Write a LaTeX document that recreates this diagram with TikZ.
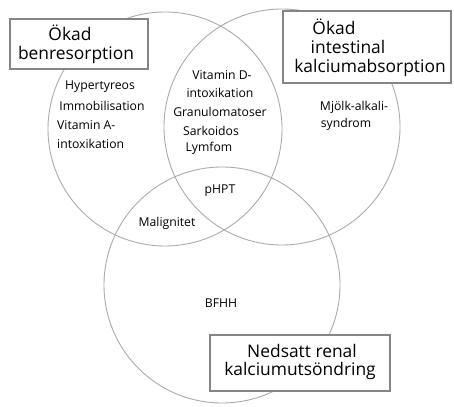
\documentclass[tikz,border=0pt]{standalone}
\usepackage{fontspec}
\setmainfont{Open Sans}
\begin{document}
\begin{tikzpicture}[x=1pt,y=-1pt,
  venn/.style={draw=black!33,line width=0.9pt},
  labelbox/.style={draw=black!48,line width=1.6pt,fill=white,inner sep=0pt,anchor=north west},
  big/.style={inner sep=0pt,font=\fontsize{17.4}{20}\selectfont,text=black},
  small/.style={inner sep=0pt,font=\fontsize{12.2}{14}\selectfont,text=black}]
\useasboundingbox (0,0) rectangle (454,406);
% circles
\draw[venn] (165,129) circle[radius=117];
\draw[venn] (282,127) circle[radius=118];
\draw[venn] (222,285) circle[radius=118];
% boxes
\node[labelbox,minimum width=138pt,minimum height=50pt] (b1) at (9,18) {};
\node[labelbox,minimum width=168pt,minimum height=72pt] (b2) at (282,10) {};
\node[labelbox,minimum width=180pt,minimum height=56pt] (b3) at (209,334) {};
% box texts
\node[big] (t1a) at (70,33) {Ökad};
\node[big] (t1b) at (76,55) {benresorption};
\node[big] (t2a) at (334,27) {Ökad};
\node[big] (t2b) at (348,47) {intestinal};
\node[big] (t2c) at (370,68) {kalciumabsorption};
\node[big] (t3a) at (302,351) {Nedsatt renal};
\node[big] (t3b) at (300,371) {kalciumutsöndring};
% left circle
\node[small] (l1) at (100,87) {Hypertyreos};
\node[small] (l2) at (102,106) {Immobilisation};
\node[small,anchor=west] (l3) at (57,125) {Vitamin A-};
\node[small,anchor=west] (l4) at (57,144) {intoxikation};
% middle
\node[small] (m1) at (222,75) {Vitamin D-};
\node[small] (m2) at (220,93) {intoxikation};
\node[small] (m3) at (220,112) {Granulomatoser};
\node[small] (m4) at (211,131) {Sarkoidos};
\node[small] (m5) at (209,148) {Lymfom};
% right
\node[small] (r1) at (354,107) {Mjölk-alkali-};
\node[small] (r2) at (346,124) {syndrom};
% intersections
\node[small] (p) at (220,191) {pHPT};
\node[small] (mal) at (167,223) {Malignitet};
\node[small] (bf) at (221,303) {BFHH};
\end{tikzpicture}
\end{document}
